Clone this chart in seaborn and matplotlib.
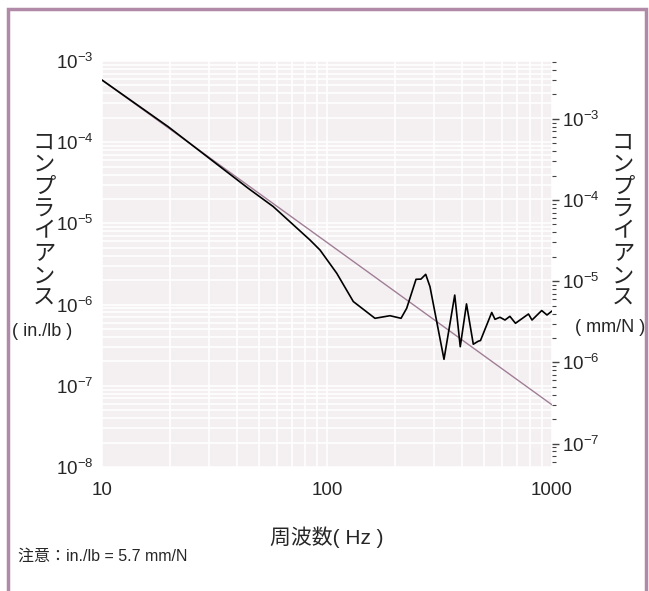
import numpy as np
import pandas as pd
import seaborn as sns
import matplotlib.pyplot as plt
from matplotlib.ticker import FuncFormatter, NullFormatter, LogLocator
from matplotlib.patches import Rectangle

freq_meas = [10, 19.7, 44.7, 57.7, 84, 93.1, 110.5, 130.9, 163.4, 190.5, 213.3, 226,
             248.7, 261.5, 274.6, 286.9, 331.1, 369.6, 391, 416.9, 446.9, 470, 481,
             539.7, 558, 587, 618, 650, 688, 786, 815, 900, 950, 1000]
comp_meas = [5.83e-4, 1.55e-4, 2.70e-5, 1.61e-5, 6.25e-6, 4.70e-6, 2.43e-6, 1.09e-6,
             6.78e-7, 7.30e-7, 6.78e-7, 9.0e-7, 2.05e-6, 2.06e-6, 2.36e-6, 1.66e-6,
             2.12e-7, 1.31e-6, 3.03e-7, 1.02e-6, 3.25e-7, 3.54e-7, 3.61e-7, 8.0e-7,
             6.59e-7, 6.98e-7, 6.46e-7, 7.17e-7, 5.89e-7, 7.66e-7, 6.46e-7, 8.45e-7,
             7.45e-7, 8.34e-7]

# mass line endpoints
freq_mass = [10, 1000]
comp_mass = [5.83e-4, 5.83e-8]

# right axis scale factor (as drawn)
k_right = 5.15

sns.set_style("darkgrid", {"axes.facecolor": "#F4F0F2", "grid.color": "white"})
plt.rcParams['font.family'] = ['Liberation Sans', 'Noto Sans CJK JP']
plt.rcParams['mathtext.fontset'] = 'custom'
plt.rcParams['mathtext.rm'] = 'Liberation Sans'
plt.rcParams['mathtext.it'] = 'Liberation Sans:italic'

df_meas = pd.DataFrame({'freq': freq_meas, 'comp': comp_meas})
df_mass = pd.DataFrame({'freq': freq_mass, 'comp': comp_mass})

fig = plt.figure(figsize=(6.49, 5.91), dpi=100)
ax = fig.add_axes([102/649, 1-467/591, 450/649, 406/591])

sns.lineplot(data=df_mass, x='freq', y='comp', color='#A07E96', lw=1.0, ax=ax)
sns.lineplot(data=df_meas, x='freq', y='comp', color='black', lw=1.2, ax=ax)

ax.set_xscale('log')
ax.set_yscale('log')
ax.set_xlim(10, 1000)
ax.set_ylim(1e-8, 1e-3)
ax.set_xlabel('')
ax.set_ylabel('')
ax.xaxis.set_minor_locator(LogLocator(base=10, subs=np.arange(2, 10)))
ax.yaxis.set_minor_locator(LogLocator(base=10, subs=np.arange(2, 10)))
ax.grid(which='both', color='white', lw=1.2)
for s in ax.spines.values():
    s.set_visible(False)

ax.xaxis.set_major_formatter(FuncFormatter(lambda v, p: f"{v:g}"))
ax.xaxis.set_minor_formatter(NullFormatter())
ax.yaxis.set_major_formatter(FuncFormatter(lambda v, p: r"$10^{%d}$" % round(np.log10(v))))
ax.yaxis.set_minor_formatter(NullFormatter())
ax.tick_params(axis='x', which='both', length=0, pad=11, labelsize=13.5)
ax.tick_params(axis='y', which='both', length=0, pad=6, labelsize=13.5)

ax2 = ax.twinx()
ax2.set_yscale('log')
ax2.set_ylim(1e-8 * k_right, 1e-3 * k_right)
ax2.grid(False)
for s in ax2.spines.values():
    s.set_visible(False)
ax2.yaxis.set_minor_locator(LogLocator(base=10, subs=np.arange(2, 10)))
ax2.yaxis.set_major_formatter(FuncFormatter(lambda v, p: r"$10^{%d}$" % round(np.log10(v))))
ax2.yaxis.set_minor_formatter(NullFormatter())
ax2.tick_params(axis='y', which='major', right=True, direction='out', length=5,
                width=1, color='#444444', pad=2, labelsize=13.5)
ax2.tick_params(axis='y', which='minor', right=True, direction='out', length=3,
                width=0.8, color='#444444')

# stacked axis titles
fig.text(44/649, 1-221/591, "\n".join("コンプライアンス"), ha='center', va='center',
         fontsize=16, linespacing=1.08)
fig.text(42/649, 1-332/591, "( in./lb )", ha='center', va='center', fontsize=13)
fig.text(623/649, 1-221/591, "\n".join("コンプライアンス"), ha='center', va='center',
         fontsize=16, linespacing=1.08)
fig.text(610/649, 1-327/591, "( mm/N )", ha='center', va='center', fontsize=13)
fig.text(327/649, 1-537/591, "周波数( Hz )", ha='center', va='center', fontsize=15)
fig.text(18/649, 1-556/591, "注意：in./lb = 5.7 mm/N", ha='left', va='center', fontsize=11.5)

fig.add_artist(Rectangle((8/649, -0.1), 638/649, 1.1 - 9/591, transform=fig.transFigure,
                         fill=False, ec='#B08AA6', lw=2.5))

fig.savefig('out.png', dpi=100)
